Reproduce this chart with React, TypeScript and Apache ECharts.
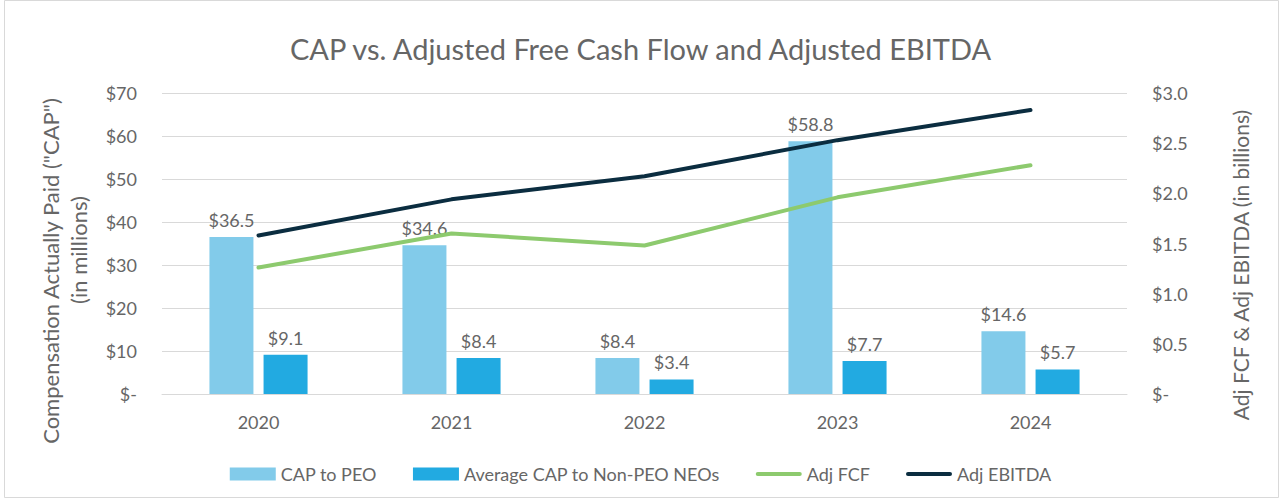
import React, { useEffect, useRef } from "react";
import * as echarts from "echarts";

const years = ["2020", "2021", "2022", "2023", "2024"];
const capPEO = [36.5, 34.6, 8.4, 58.8, 14.6];
const capNonPEO = [9.1, 8.4, 3.4, 7.7, 5.7];
const adjFCF = [1.26, 1.6, 1.48, 1.96, 2.28];
const adjEBITDA = [1.58, 1.94, 2.17, 2.53, 2.83];

const leftTitle1 = 'Compensation Actually Paid ("CAP")';
const leftTitle2 = "(in millions)";
const rightTitle = "Adj FCF & Adj EBITDA (in billions)";

const FONT = "Lato";
const GRAY = "#666666";
const LINE_ICON = "path://M2,0 H44 A2,2 0 0 1 44,4 H2 A2,2 0 0 1 2,0 Z";

export default function App() {
  const ref = useRef<HTMLDivElement>(null);
  useEffect(() => {
    if (!ref.current) return;
    const chart = echarts.init(ref.current, null, { renderer: "svg" });
    const lbl = {
      show: true,
      position: "top",
      distance: 8,
      color: GRAY,
      fontSize: 18,
      fontFamily: FONT,
      formatter: (p: any) => "$" + Number(p.value).toFixed(1),
    };
    const vText = (text: string, x: number, y: number, size: number) => ({
      type: "text",
      x,
      y,
      rotation: Math.PI / 2,
      silent: true,
      style: {
        text,
        fill: GRAY,
        font: `${size}px ${FONT}`,
        align: "center",
        verticalAlign: "middle",
      },
    });
    chart.setOption({
      animation: false,
      backgroundColor: "#fff",
      textStyle: { fontFamily: FONT },
      title: {
        text: "CAP vs. Adjusted Free Cash Flow and Adjusted EBITDA",
        left: "center",
        top: 29,
        textStyle: { color: GRAY, fontSize: 29, fontWeight: "normal", fontFamily: FONT },
      },
      graphic: [
        {
          type: "rect",
          shape: { x: 4.5, y: 0.5, width: 1274, height: 497 },
          style: { fill: "none", stroke: "#d9d9d9", lineWidth: 1 },
          silent: true,
        },
        vText(leftTitle1, 50, 271, 22),
        vText(leftTitle2, 78, 250, 22),
        vText(rightTitle, 1240, 265, 21),
      ],
      legend: {
        top: 460,
        left: "center",
        itemWidth: 46,
        itemHeight: 13,
        itemGap: 36,
        textStyle: { color: GRAY, fontSize: 18, fontFamily: FONT },
        data: [
          { name: "CAP to PEO", icon: "rect" },
          { name: "Average CAP to Non-PEO NEOs", icon: "rect" },
          { name: "Adj FCF", icon: LINE_ICON },
          { name: "Adj EBITDA", icon: LINE_ICON },
        ],
      },
      grid: { left: 162, right: 154, top: 93, bottom: 108, containLabel: false },
      xAxis: {
        type: "category",
        data: years,
        axisTick: { show: false },
        axisLine: { show: true, lineStyle: { color: "#d9d9d9" } },
        axisLabel: { color: GRAY, fontSize: 18, fontFamily: FONT, margin: 19 },
      },
      yAxis: [
        {
          type: "value",
          min: 0,
          max: 70,
          interval: 10,
          axisLabel: {
            color: GRAY,
            fontSize: 18,
            fontFamily: FONT,
            margin: 25,
            formatter: (v: number) => (v === 0 ? "$-" : "$" + v),
          },
          splitLine: { lineStyle: { color: "#d9d9d9", width: 1 } },
          axisLine: { show: false },
          axisTick: { show: false },
        },
        {
          type: "value",
          min: 0,
          max: 3,
          interval: 0.5,
          axisLabel: {
            color: GRAY,
            fontSize: 18,
            fontFamily: FONT,
            margin: 25,
            formatter: (v: number) => (v === 0 ? "$-" : "$" + v.toFixed(1)),
          },
          splitLine: { show: false },
          axisLine: { show: false },
          axisTick: { show: false },
        },
      ],
      series: [
        {
          name: "CAP to PEO",
          type: "bar",
          data: capPEO,
          barWidth: 44,
          barGap: "23%",
          itemStyle: { color: "#82CBEA" },
          label: lbl,
        },
        {
          name: "Average CAP to Non-PEO NEOs",
          type: "bar",
          data: capNonPEO,
          barWidth: 44,
          itemStyle: { color: "#22AAE1" },
          label: lbl,
        },
        {
          name: "Adj FCF",
          type: "line",
          yAxisIndex: 1,
          data: adjFCF,
          showSymbol: false,
          symbol: "none",
          lineStyle: { color: "#8DCA6E", width: 4, cap: "round" },
          itemStyle: { color: "#8DCA6E" },
        },
        {
          name: "Adj EBITDA",
          type: "line",
          yAxisIndex: 1,
          data: adjEBITDA,
          showSymbol: false,
          symbol: "none",
          lineStyle: { color: "#0B2D40", width: 4, cap: "round" },
          itemStyle: { color: "#0B2D40" },
        },
      ],
    });
    return () => chart.dispose();
  }, []);
  return (
    <div
      ref={ref}
      style={{ position: "fixed", left: 0, top: 0, width: 1281, height: 502, background: "#fff" }}
    />
  );
}
